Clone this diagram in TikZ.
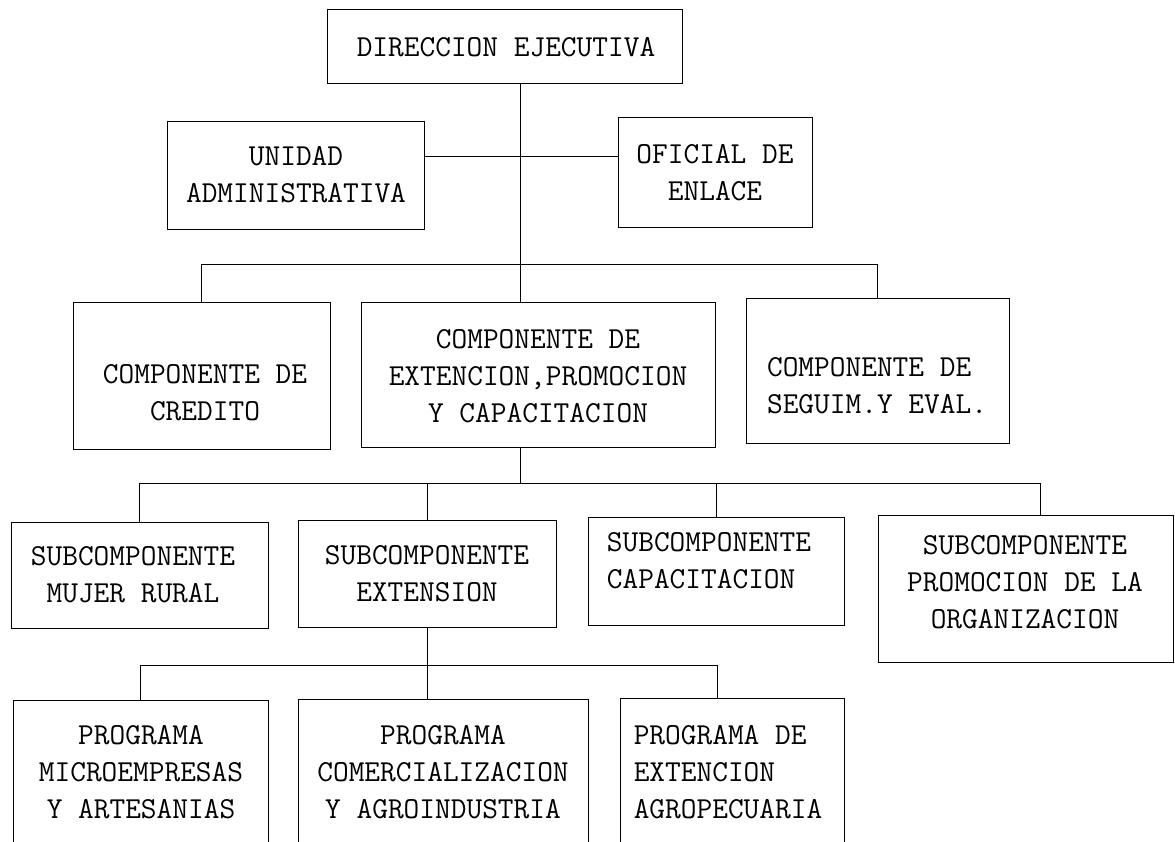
\documentclass[tikz,border=0pt]{standalone}
\usepackage{fontspec}
\tikzset{
  box/.style={draw=black, line width=1pt, rectangle, inner sep=0pt},
  lbl/.style={inner sep=0pt, font=\fontsize{30.5}{37}\selectfont\ttfamily\addfontfeatures{FakeBold=1.2}, text=black},
  conn/.style={draw=black, line width=1pt}
}
\begin{document}
\begin{tikzpicture}[x=1pt,y=-1pt]
\useasboundingbox (0,0) rectangle (1175,842);
\clip (0,0) rectangle (1175,842);
\fill[white] (0,0) rectangle (1175,842);
% boxes
\node[box, minimum width=355pt, minimum height=74pt]  (dir)   at (504.5,47) {};
\node[box, minimum width=257pt, minimum height=108pt] (unid)  at (295.5,176) {};
\node[box, minimum width=194pt, minimum height=110pt] (ofic)  at (715,173) {};
\node[box, minimum width=257pt, minimum height=146pt] (cred)  at (201.5,376) {};
\node[box, minimum width=354pt, minimum height=144pt] (ext)   at (538,375) {};
\node[box, minimum width=263pt, minimum height=144pt] (seg)   at (877.5,371) {};
\node[box, minimum width=257pt, minimum height=106pt] (muj)   at (139.5,575) {};
\node[box, minimum width=258pt, minimum height=107pt] (sext)  at (427,573.5) {};
\node[box, minimum width=256pt, minimum height=108pt] (scap)  at (716,571) {};
\node[box, minimum width=295pt, minimum height=147pt] (sprom) at (1025.5,588.5) {};
\node[box, minimum width=255pt, minimum height=146pt] (pmic)  at (140.5,773) {};
\node[box, minimum width=290pt, minimum height=146pt] (pcom)  at (443,772) {};
\node[box, minimum width=224pt, minimum height=146pt] (pagr)  at (732,771) {};
% texts
\node[lbl] (dirT) at (506,47) {DIRECCION EJECUTIVA};
\node[lbl, align=center] (unidT) at (296,175) {UNIDAD\\ADMINISTRATIVA};
\node[lbl, align=center] (oficT) at (715,173) {OFICIAL DE\\ENLACE};
\node[lbl, align=center] (credT) at (205,393) {COMPONENTE DE\\CREDITO};
\node[lbl, align=center] (extT) at (538,376) {COMPONENTE DE\\EXTENCION,PROMOCION\\Y CAPACITACION};
\node[lbl, align=left] (segT) at (877,386) {COMPONENTE DE\\SEGUIM.Y EVAL.};
\node[lbl, align=center] (mujT) at (133,575) {SUBCOMPONENTE\\MUJER RURAL};
\node[lbl, align=center] (sextT) at (427,574) {SUBCOMPONENTE\\EXTENSION};
\node[lbl, align=left] (scapT) at (709,561) {SUBCOMPONENTE\\CAPACITACION};
\node[lbl, align=center] (spromT) at (1025,582) {SUBCOMPONENTE\\PROMOCION DE LA\\ORGANIZACION};
\node[lbl, align=center] (pmicT) at (141,772) {PROGRAMA\\MICROEMPRESAS\\Y ARTESANIAS};
\node[lbl, align=center] (pcomT) at (443,772) {PROGRAMA\\COMERCIALIZACION\\Y AGROINDUSTRIA};
\node[lbl, align=left] (pagrT) at (728,772) {PROGRAMA DE\\EXTENCION\\AGROPECUARIA};
% junctions
\coordinate (j1) at (520,157);
\coordinate (j2) at (520,265);
\coordinate (j3) at (520,483);
\coordinate (r3) at (1040,483);
\coordinate (j4) at (427,665);
\coordinate (r4) at (717,665);
% connectors
\draw[conn] (dir.south -| j1) -- (ext.north -| j1);
\draw[conn] (unid.east |- j1) -- (ofic.west |- j1);
\draw[conn] (cred.north) -- (cred.north |- j2) -- (seg.north |- j2) -- (seg.north);
\draw[conn] (ext.south -| j3) -- (j3);
\draw[conn] (muj.north) -- (muj.north |- j3) -- (r3) -- (r3 |- sprom.north);
\draw[conn] (sext.north) -- (sext.north |- j3);
\draw[conn] (scap.north) -- (scap.north |- j3);
\draw[conn] (sext.south) -- (sext.south |- pcom.north);
\draw[conn] (pmic.north) -- (pmic.north |- j4) -- (r4) -- (r4 |- pagr.north);
\end{tikzpicture}
\end{document}
